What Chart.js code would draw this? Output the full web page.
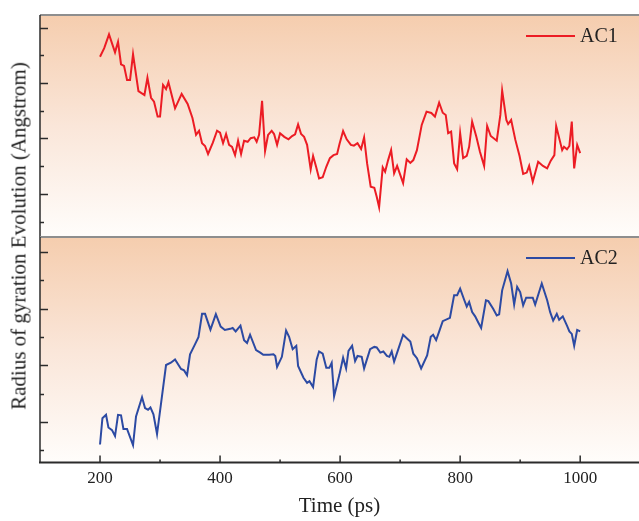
<!DOCTYPE html>
<html>
<head>
<meta charset="utf-8">
<title>Radius of gyration</title>
<script src="https://cdn.jsdelivr.net/npm/chart.js@4.4.1/dist/chart.umd.min.js"></script>
<style>
  html, body { margin: 0; padding: 0; background: #fff; overflow: hidden; }
  #wrap { position: relative; width: 639px; height: 521px; }
  #wrap canvas { position: absolute; left: 0; }
  #rgTop { top: 0; }
  #rgBottom { top: 236px; }
  #yTitle {
    position: absolute; left: 19px; top: 236px;
    transform: translate(-50%, -50%) rotate(-90deg);
    white-space: nowrap; font: 21px 'Liberation Serif', serif; color: #222;
  }
</style>
</head>
<body>
<div id="wrap">
  <canvas id="rgTop" width="639" height="238"></canvas>
  <canvas id="rgBottom" width="639" height="285"></canvas>
  <div id="yTitle">Radius of gyration Evolution (Angstrom)</div>
</div>
<script>
// tick positions
const timeTicks = [200, 400, 600, 800, 1000];
const timeMinorTicks = [300, 500, 700, 900];
const rgMajorTicks = [2, 4, 6, 8];
const rgMinorTicks = [1, 3, 5, 7];

// AC1 trajectory
const ac1Time = [200,207,215,225,230,235,240,245,250,255,
  264,274,279,285,290,296,300,305,310,314,
  325,336,346,354,360,365,370,375,380,388,
  395,400,405,410,415,420,425,430,435,440,
  446,451,457,461,465,470,475,480,486,490,
  495,500,507,514,520,525,530,535,540,545,
  551,555,560,565,571,577,583,589,595,599,
  605,611,618,623,629,635,640,645,651,657,
  661,665,671,675,680,685,690,695,705,711,
  717,722,728,736,744,752,758,765,771,776,
  780,785,790,795,800,805,811,815,820,827,
  833,840,845,851,861,867,870,877,880,885,
  892,899,905,911,915,921,930,938,945,951,
  957,960,970,973,978,982,986,990,995,1000];
const ac1Rg = [6.95,7.26,7.76,7.11,7.49,6.68,6.62,6.11,6.11,7.04,
  5.71,5.57,6.19,5.47,5.33,4.79,4.79,5.93,5.78,6.03,
  5.09,5.61,5.25,4.74,4.13,4.28,3.83,3.73,3.44,3.85,
  4.28,4.21,3.83,4.16,3.77,3.70,3.40,3.92,3.44,3.92,
  3.88,4.01,4.04,3.88,4.13,5.36,3.55,4.13,4.28,4.16,
  3.77,4.19,4.06,3.97,4.09,4.15,4.51,4.16,4.06,3.77,
  2.89,3.37,2.98,2.56,2.60,2.98,3.29,3.40,3.44,3.80,
  4.27,3.97,3.77,3.74,3.83,3.62,4.04,3.10,2.26,2.22,
  1.90,1.52,2.96,2.80,3.22,3.58,2.74,3.01,2.39,3.25,
  3.12,3.22,3.58,4.49,4.97,4.92,4.79,5.29,4.93,4.85,
  4.19,4.25,3.10,2.89,4.19,3.29,3.37,3.70,4.61,4.06,
  3.52,3.01,4.45,4.09,3.92,4.85,5.73,4.67,4.52,4.67,
  3.95,3.37,2.72,2.77,3.01,2.44,3.16,3.01,2.92,3.20,
  3.40,4.45,3.58,3.70,3.61,3.73,4.61,2.92,3.77,3.47];

// AC2 trajectory
const ac2Time = [200,204,210,214,220,225,230,235,239,245,
  255,260,270,275,280,284,289,295,310,318,
  325,335,340,345,350,358,364,370,375,384,
  393,401,408,417,421,426,434,440,445,450,
  460,467,472,482,489,492,495,503,510,515,
  521,527,530,539,545,549,555,561,565,571,
  577,582,586,590,599,605,610,614,620,625,
  629,636,640,650,657,661,667,672,678,682,
  686,690,697,705,711,717,722,728,735,745,
  751,755,760,765,771,783,790,795,800,807,
  811,815,820,825,830,835,843,847,855,861,
  865,870,879,885,890,895,900,905,910,921,
  925,936,945,950,955,961,965,971,978,982,
  986,990,995,1000];
const ac2Rg = [1.20,2.13,2.25,1.80,1.71,1.50,2.25,2.23,1.75,1.75,
  1.18,2.19,2.87,2.49,2.43,2.51,2.27,1.57,4.01,4.09,
  4.21,3.87,3.82,3.65,4.39,4.73,4.99,5.82,5.82,5.26,
  5.81,5.37,5.25,5.29,5.32,5.20,5.40,4.89,4.79,5.08,
  4.54,4.45,4.37,4.37,4.39,4.33,3.94,4.30,5.23,5.01,
  4.57,4.69,3.98,3.56,3.38,3.44,3.23,4.21,4.49,4.41,
  3.91,3.91,4.09,2.90,3.68,4.27,3.89,4.51,4.69,4.15,
  4.33,4.30,3.89,4.57,4.65,4.63,4.45,4.49,4.33,4.30,
  4.49,4.13,4.57,5.08,4.96,4.84,4.41,4.25,3.89,4.35,
  5.01,5.08,4.89,5.19,5.56,5.68,6.48,6.48,6.71,6.30,
  6.08,6.24,5.88,5.73,5.52,5.32,6.30,6.27,6.00,5.76,
  5.80,6.65,7.33,6.89,6.15,6.77,6.59,6.12,6.39,6.39,
  6.15,6.89,6.30,5.88,5.58,5.82,5.61,5.73,5.40,5.20,
  5.11,4.69,5.25,5.20];

const serif = "'Liberation Serif', 'Times New Roman', serif";

function strokeLine(ctx, x1, y1, x2, y2) {
  ctx.beginPath();
  ctx.moveTo(x1, y1);
  ctx.lineTo(x2, y2);
  ctx.stroke();
}

// gradient panel background, frame lines, inward ticks and in-panel legend
const panelFrame = {
  id: 'panelFrame',
  beforeDraw(chart) {
    const { ctx, chartArea: a } = chart;
    const g = ctx.createLinearGradient(0, a.top, 0, a.bottom);
    g.addColorStop(0, '#f5cdae');
    g.addColorStop(0.5, '#fae6d9');
    g.addColorStop(1, '#fffdfb');
    ctx.save();
    ctx.fillStyle = g;
    ctx.fillRect(a.left, a.top, a.right - a.left, a.bottom - a.top);
    ctx.restore();
  },
  afterDraw(chart, args, opts) {
    const { ctx, chartArea: a, scales } = chart;
    ctx.save();
    ctx.lineCap = 'butt';

    // top edge
    ctx.strokeStyle = '#8e8e8e';
    ctx.lineWidth = 2;
    strokeLine(ctx, a.left, a.top, a.right, a.top);

    // left axis + inward y ticks
    ctx.strokeStyle = '#2b2b2b';
    ctx.lineWidth = 1.5;
    strokeLine(ctx, a.left, a.top, a.left, a.bottom);
    rgMajorTicks.forEach(v => {
      const y = Math.round(scales.y.getPixelForValue(v)) + 0.5;
      strokeLine(ctx, a.left, y, a.left + 8, y);
    });
    rgMinorTicks.forEach(v => {
      const y = Math.round(scales.y.getPixelForValue(v)) + 0.5;
      strokeLine(ctx, a.left, y, a.left + 4, y);
    });

    if (opts.timeAxis) {
      ctx.lineWidth = 2;
      strokeLine(ctx, a.left - 1, a.bottom, a.right, a.bottom);
      ctx.lineWidth = 1.5;
      timeTicks.forEach(v => {
        const x = scales.x.getPixelForValue(v);
        strokeLine(ctx, x, a.bottom, x, a.bottom - 7);
      });
      timeMinorTicks.forEach(v => {
        const x = scales.x.getPixelForValue(v);
        strokeLine(ctx, x, a.bottom, x, a.bottom - 3);
      });
    }

    // legend
    const ds = chart.data.datasets[0];
    const ly = a.top + opts.legendY;
    ctx.strokeStyle = ds.borderColor;
    ctx.lineWidth = 2;
    strokeLine(ctx, a.right - 113, ly, a.right - 64, ly);
    ctx.fillStyle = '#222';
    ctx.font = '20px ' + serif;
    ctx.textAlign = 'left';
    ctx.textBaseline = 'middle';
    ctx.fillText(ds.label, a.right - 59, ly + 1);
    ctx.restore();
  }
};

function makePanel(canvasId, label, times, values, color, yMin, yMax, extra) {
  const points = times.map((t, i) => ({ x: t, y: values[i] }));
  return new Chart(document.getElementById(canvasId), {
    type: 'line',
    data: {
      datasets: [{
        label: label,
        data: points,
        borderColor: color,
        borderWidth: 2,
        pointRadius: 0,
        fill: false,
        tension: 0
      }]
    },
    options: {
      responsive: false,
      animation: false,
      devicePixelRatio: 1,
      layout: { padding: extra.padding },
      plugins: {
        legend: { display: false },
        tooltip: { enabled: false },
        panelFrame: { legendY: extra.legendY, timeAxis: extra.timeAxis }
      },
      scales: {
        x: {
          type: 'linear',
          min: 100,
          max: 1098,
          display: extra.timeAxis,
          afterBuildTicks: s => { s.ticks = timeTicks.map(v => ({ value: v })); },
          grid: { display: false, drawTicks: false, tickLength: 0 },
          border: { display: false },
          ticks: {
            color: '#222',
            font: { family: serif, size: 17 },
            padding: 6,
            maxRotation: 0,
            callback: v => String(v)
          },
          title: {
            display: true,
            text: 'Time (ps)',
            color: '#222',
            font: { family: serif, size: 21, lineHeight: 1.1 },
            padding: { top: 0, bottom: 0 }
          }
        },
        y: {
          type: 'linear',
          min: yMin,
          max: yMax,
          display: false
        }
      }
    },
    plugins: [panelFrame]
  });
}

// Upper panel - AC1
makePanel('rgTop', 'AC1', ac1Time, ac1Rg, '#ec1c24', 0.444, 8.458, {
  padding: { top: 15, left: 40, right: 0, bottom: 1 },
  legendY: 21,
  timeAxis: false
});

// Lower panel - AC2
makePanel('rgBottom', 'AC2', ac2Time, ac2Rg, '#2c4aa3', 0.564, 8.536, {
  padding: { top: 1, left: 40, right: 0, bottom: 3 },
  legendY: 21,
  timeAxis: true
});
</script>
</body>
</html>
